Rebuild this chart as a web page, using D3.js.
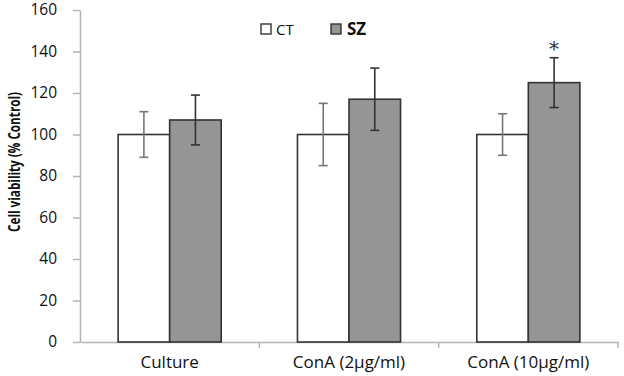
<!DOCTYPE html>
<html>
<head>
<meta charset="utf-8">
<script src="https://cdn.jsdelivr.net/npm/d3@7"></script>
<style>
  body { margin: 0; background: #fff; }
  text { font-family: "Open Sans", sans-serif; }
</style>
</head>
<body>
<div id="chart"></div>
<script>
const categories = ["Culture", "ConA (2µg/ml)", "ConA (10µg/ml)"];
const groups = ["CT", "SZ"];
const ctMeans = [100, 100, 100];
const ctErrors = [11, 15, 10];
const szMeans = [107, 117, 125];
const szErrors = [12, 15, 12];
const yTicks = [0, 20, 40, 60, 80, 100, 120, 140, 160];
const marks = ["", "", "*"];

const rows = [];
categories.forEach((c, i) => {
    rows.push({ cat: c, group: "CT", value: ctMeans[i], err: ctErrors[i] });
    rows.push({ cat: c, group: "SZ", value: szMeans[i], err: szErrors[i] });
});

const width = 624, height = 376;
const margin = { top: 10, right: 6, bottom: 34, left: 80 };

const svg = d3.select("#chart").append("svg")
    .attr("width", width)
    .attr("height", height);

const x = d3.scaleBand()
    .domain(categories)
    .range([margin.left, width - margin.right]);

const xInner = d3.scaleBand()
    .domain(groups)
    .range([0, x.bandwidth()])
    .paddingOuter(0.74)
    .paddingInner(0);

const y = d3.scaleLinear()
    .domain([0, 160])
    .range([height - margin.bottom, margin.top]);

const fills = { CT: "#ffffff", SZ: "#959595" };
const errColor = { CT: "#777777", SZ: "#333333" };

// y axis
const yAxis = svg.append("g")
    .attr("transform", `translate(${margin.left},0)`)
    .call(d3.axisLeft(y).tickValues(yTicks).tickSize(7).tickPadding(16).tickSizeOuter(0));
yAxis.select(".domain").attr("stroke", "#b5b5b5").attr("stroke-width", 1.5);
yAxis.selectAll(".tick line").attr("stroke", "#b5b5b5").attr("stroke-width", 1.5);
yAxis.selectAll(".tick text")
    .style("font-size", "15.5px")
    .attr("fill", "#111");

// x axis
const xAxis = svg.append("g")
    .attr("transform", `translate(0,${y(0)})`)
    .call(d3.axisBottom(x).tickSize(0).tickPadding(14).tickSizeOuter(0));
xAxis.select(".domain").attr("stroke", "#b5b5b5").attr("stroke-width", 1.5);
xAxis.selectAll(".tick text")
    .style("font-size", "17px")
    .attr("fill", "#111");

// category separators on x axis
svg.append("g").selectAll("line")
    .data(categories.slice(1).concat(["end"]))
    .enter()
    .append("line")
    .attr("x1", (d, i) => i < categories.length - 1 ? x(d) : x.range()[1])
    .attr("x2", (d, i) => i < categories.length - 1 ? x(d) : x.range()[1])
    .attr("y1", y(0))
    .attr("y2", y(0) + 6)
    .attr("stroke", "#b5b5b5")
    .attr("stroke-width", 1.5);

// bars
svg.append("g").selectAll("rect")
    .data(rows)
    .enter()
    .append("rect")
    .attr("x", d => x(d.cat) + xInner(d.group))
    .attr("y", d => y(d.value))
    .attr("width", xInner.bandwidth())
    .attr("height", d => y(0) - y(d.value))
    .attr("fill", d => fills[d.group])
    .attr("stroke", "#333")
    .attr("stroke-width", 1.6);

// error bars
const eb = svg.append("g").selectAll("g")
    .data(rows)
    .enter()
    .append("g")
    .attr("stroke", d => errColor[d.group])
    .attr("stroke-width", 1.6);

const cx = d => x(d.cat) + xInner(d.group) + xInner.bandwidth() / 2;

eb.append("line")
    .attr("x1", cx).attr("x2", cx)
    .attr("y1", d => y(d.value + d.err))
    .attr("y2", d => y(d.value - d.err));
eb.append("line")
    .attr("x1", d => cx(d) - 4.5).attr("x2", d => cx(d) + 4.5)
    .attr("y1", d => y(d.value + d.err))
    .attr("y2", d => y(d.value + d.err));
eb.append("line")
    .attr("x1", d => cx(d) - 4.5).attr("x2", d => cx(d) + 4.5)
    .attr("y1", d => y(d.value - d.err))
    .attr("y2", d => y(d.value - d.err));

// significance marks
svg.append("g").selectAll("text")
    .data(rows.filter(d => d.group === "SZ"))
    .enter()
    .append("text")
    .attr("x", cx)
    .attr("y", d => y(d.value + d.err) - 2)
    .attr("text-anchor", "middle")
    .style("font-family", "'DejaVu Serif', serif")
    .style("font-size", "20px")
    .attr("fill", "#333")
    .text((d, i) => marks[i]);

// y label
svg.append("text")
    .attr("transform", "rotate(-90)")
    .attr("x", -162)
    .attr("y", 20)
    .attr("text-anchor", "middle")
    .attr("textLength", 140)
    .attr("lengthAdjust", "spacingAndGlyphs")
    .style("font-size", "16px")
    .style("font-weight", "bold")
    .attr("fill", "#111")
    .text("Cell viability (% Control)");

// legend
const legend = svg.append("g").selectAll("g")
    .data(groups)
    .enter()
    .append("g")
    .attr("transform", (d, i) => `translate(${261 + i * 70},24)`);
legend.append("rect")
    .attr("width", 10)
    .attr("height", 10)
    .attr("fill", d => fills[d])
    .attr("stroke", "#333")
    .attr("stroke-width", 1.4);
legend.append("text")
    .attr("x", d => d === "SZ" ? 16 : 15)
    .attr("y", 11)
    .style("font-size", d => d === "SZ" ? "17px" : "15px")
    .style("font-weight", d => d === "SZ" ? "bold" : "normal")
    .attr("fill", "#111")
    .text(d => d);
</script>
</body>
</html>
